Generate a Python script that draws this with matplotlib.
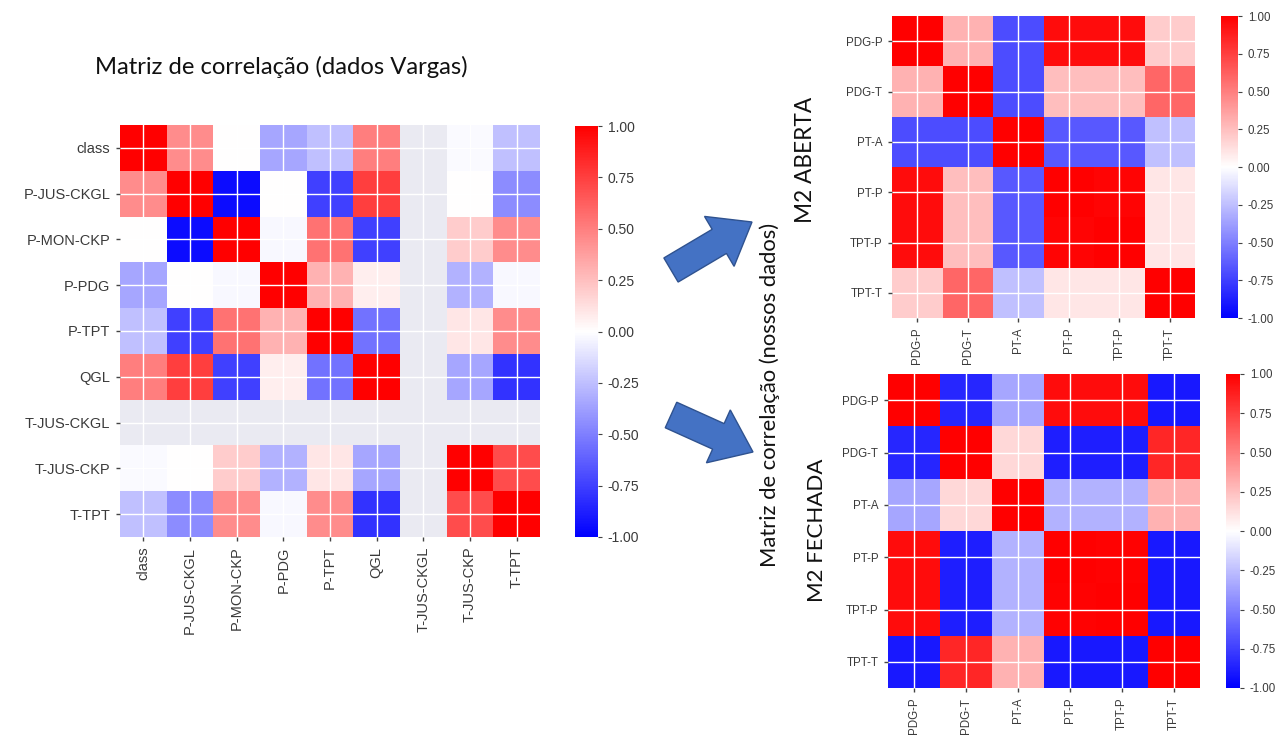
import matplotlib
matplotlib.use("Agg")
import matplotlib.pyplot as plt
import matplotlib.patches as mpatches
import numpy as np

# dados Vargas
vargas_labels = ['class', 'P-JUS-CKGL', 'P-MON-CKP', 'P-PDG', 'P-TPT', 'QGL',
                 'T-JUS-CKGL', 'T-JUS-CKP', 'T-TPT']
nan = np.nan
vargas_corr = [
    [1.00, 0.45, 0.00, -0.35, -0.25, 0.50, nan, -0.02, -0.25],
    [0.45, 1.00, -0.95, 0.00, -0.75, 0.75, nan, 0.00, -0.45],
    [0.00, -0.95, 1.00, -0.03, 0.55, -0.75, nan, 0.20, 0.45],
    [-0.35, 0.00, -0.03, 1.00, 0.30, 0.07, nan, -0.30, -0.03],
    [-0.25, -0.75, 0.55, 0.30, 1.00, -0.55, nan, 0.10, 0.45],
    [0.50, 0.75, -0.75, 0.07, -0.55, 1.00, nan, -0.35, -0.80],
    [nan, nan, nan, nan, nan, nan, nan, nan, nan],
    [-0.02, 0.00, 0.20, -0.30, 0.10, -0.35, nan, 1.00, 0.70],
    [-0.25, -0.45, 0.45, -0.03, 0.45, -0.80, nan, 0.70, 1.00],
]

# nossos dados
m2_labels = ['PDG-P', 'PDG-T', 'PT-A', 'PT-P', 'TPT-P', 'TPT-T']
m2_aberta = [
    [1.00, 0.30, -0.70, 0.95, 0.95, 0.20],
    [0.30, 1.00, -0.70, 0.25, 0.25, 0.60],
    [-0.70, -0.70, 1.00, -0.65, -0.65, -0.25],
    [0.95, 0.25, -0.65, 1.00, 0.98, 0.10],
    [0.95, 0.25, -0.65, 0.98, 1.00, 0.10],
    [0.20, 0.60, -0.25, 0.10, 0.10, 1.00],
]
m2_fechada = [
    [1.00, -0.85, -0.35, 0.95, 0.95, -0.90],
    [-0.85, 1.00, 0.15, -0.88, -0.88, 0.85],
    [-0.35, 0.15, 1.00, -0.30, -0.30, 0.30],
    [0.95, -0.88, -0.30, 1.00, 0.99, -0.90],
    [0.95, -0.88, -0.30, 0.99, 1.00, -0.90],
    [-0.90, 0.85, 0.30, -0.90, -0.90, 1.00],
]

plt.rcParams['font.family'] = ['Liberation Sans', 'DejaVu Sans']
plt.rcParams['axes.unicode_minus'] = True

W, H = 1284, 735
fig = plt.figure(figsize=(W / 100, H / 100), dpi=100)


def px_axes(x0, y0, x1, y1):
    return fig.add_axes([x0 / W, 1 - y1 / H, (x1 - x0) / W, (y1 - y0) / H])


def heatmap(ax, cax, data, labels, fs, cfs):
    arr = np.ma.masked_invalid(np.array(data, dtype=float))
    n = len(labels)
    ax.set_facecolor('#EAEAF2')
    mesh = ax.pcolormesh(arr, cmap='bwr', vmin=-1, vmax=1)
    ax.set_xlim(0, n)
    ax.set_ylim(n, 0)
    ax.set_xticks(np.arange(n) + 0.5)
    ax.set_yticks(np.arange(n) + 0.5)
    ax.set_xticklabels(labels, rotation=90, fontsize=fs, color='#3a3a3a')
    ax.set_yticklabels(labels, rotation=0, fontsize=fs, color='#3a3a3a')
    ax.tick_params(length=3, width=1, color='#444444', pad=4)
    ax.set_axisbelow(False)
    ax.grid(True, color='white', linewidth=1)
    for s in ax.spines.values():
        s.set_visible(False)
    cb = fig.colorbar(mesh, cax=cax)
    cb.outline.set_visible(False)
    cb.set_ticks(np.arange(-1, 1.01, 0.25))
    cb.ax.yaxis.set_major_formatter(plt.FormatStrFormatter('%.2f'))
    cb.ax.tick_params(labelsize=cfs, length=3, color='#444444', labelcolor='#3a3a3a', pad=4)
    return mesh


ax1 = px_axes(120, 125, 540, 537)
cax1 = px_axes(575, 126, 598, 537)
heatmap(ax1, cax1, vargas_corr, vargas_labels, 10.5, 10)

ax2 = px_axes(892, 16, 1195, 318)
cax2 = px_axes(1221, 16, 1238, 318)
heatmap(ax2, cax2, m2_aberta, m2_labels, 8.3, 8.3)

ax3 = px_axes(888, 374, 1200, 688)
cax3 = px_axes(1226, 374, 1240, 688)
heatmap(ax3, cax3, m2_fechada, m2_labels, 8.3, 8.3)

# camada de anotações em pixels
over = fig.add_axes([0, 0, 1, 1], facecolor='none')
over.set_xlim(0, W)
over.set_ylim(H, 0)
over.axis('off')

title_font = ['Lato', 'DejaVu Sans']
over.text(95, 67, 'Matriz de correlação (dados Vargas)', fontsize=17.2,
          family=title_font, color='#111111', va='center', ha='left')
over.text(770, 395, 'Matriz de correlação (nossos dados)', fontsize=15.8,
          family=title_font, color='#111111', rotation=90, va='center', ha='center')
over.text(805, 160, 'M2 ABERTA', fontsize=16.3, family=title_font,
          color='#111111', rotation=90, va='center', ha='center')
over.text(817, 530, 'M2 FECHADA', fontsize=16, family=title_font,
          color='#111111', rotation=90, va='center', ha='center')

for (x, y, dx, dy) in [(671, 270, 81, -48), (671, 415, 82, 37)]:
    arrow = mpatches.FancyArrow(x, y, dx, dy, width=28, head_width=58,
                                head_length=38, length_includes_head=True,
                                facecolor='#4472C4', edgecolor='#2F528F', linewidth=1)
    over.add_patch(arrow)

fig.savefig('out.png', dpi=100)
